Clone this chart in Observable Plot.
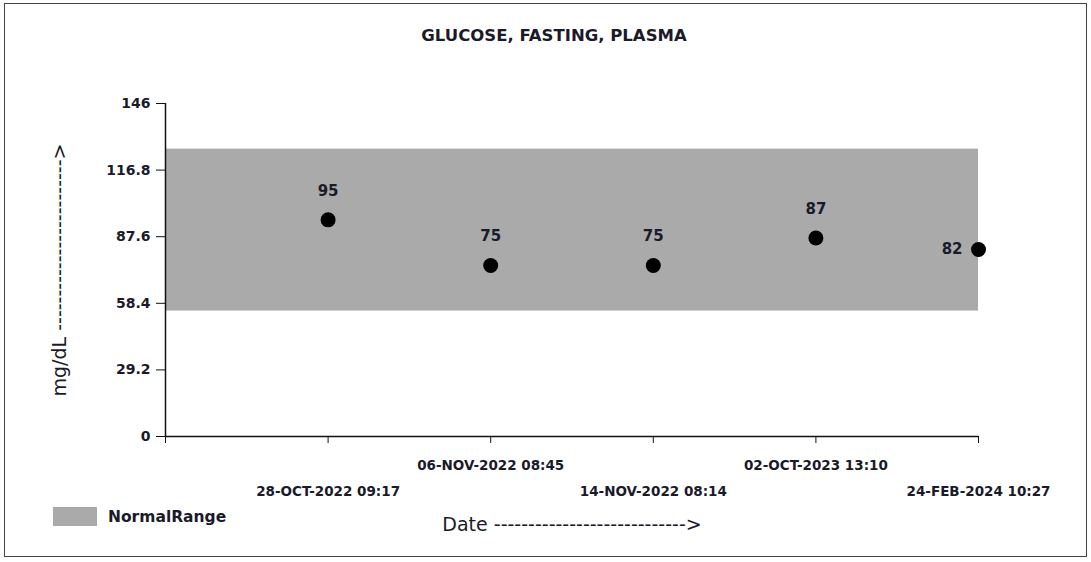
<!DOCTYPE html>
<html><head><meta charset="utf-8">
<script src="https://cdn.jsdelivr.net/npm/d3@7"></script>
<script src="https://cdn.jsdelivr.net/npm/@observablehq/plot@0.6"></script>
<style>
body{margin:0;background:#fff;}
#wrap{position:relative;width:1091px;height:562px;overflow:hidden;background:#fff;}
#chart{position:absolute;left:0;top:0;}
#frame{position:absolute;left:4px;top:3px;width:1081px;height:552px;border:1px solid #444;pointer-events:none;}
#legend{position:absolute;left:53px;top:507px;display:flex;align-items:center;font:bold 15.5px "DejaVu Sans",sans-serif;color:#1a1a2a;}
#legend .sw{width:44px;height:19px;background:#aaaaaa;margin-right:11px;}
</style></head><body>
<div id="wrap"><div id="chart"></div><div id="frame"></div><div id="legend"><div class="sw"></div><span id="legtxt"></span></div></div>
<script>
const title = "GLUCOSE, FASTING, PLASMA";
const dates = ["28-OCT-2022 09:17","06-NOV-2022 08:45","14-NOV-2022 08:14","02-OCT-2023 13:10","24-FEB-2024 10:27"];
const values = [95, 75, 75, 87, 82];
const yTicks = [0, 29.2, 58.4, 87.6, 116.8, 146];
const normalRange = [55, 126];
const xLabel = "Date ---------------------------->";
const yLabel = "mg/dL ------------------------->";
const legendLabel = "NormalRange";

document.getElementById("legtxt").textContent = legendLabel;

const data = dates.map((d, i) => ({i: i + 1, date: d, value: values[i]}));
const n = dates.length;
const xTicks = d3.range(0, n + 1);
const font = "'DejaVu Sans', sans-serif";

const chart = Plot.plot({
  width: 1091,
  height: 562,
  marginLeft: 165,
  marginRight: 113,
  marginTop: 103,
  marginBottom: 126,
  style: {fontFamily: font, fontSize: "13px", color: "#1a1a2a", background: "transparent"},
  x: {domain: [0, n], axis: null},
  y: {domain: [0, yTicks[yTicks.length - 1]], axis: null},
  marks: [
    Plot.rect([normalRange], {x1: 0, x2: n, y1: d => d[0], y2: d => d[1], fill: "#aaaaaa"}),
    Plot.ruleX([0], {y1: 0, y2: yTicks[yTicks.length - 1], stroke: "#111", strokeWidth: 1.5}),
    Plot.ruleY([0], {x1: 0, x2: n, stroke: "#111", strokeWidth: 1.5}),
    Plot.axisY({ticks: yTicks, tickSize: 9, tickPadding: 6, tickFormat: d => String(d), label: null, fontWeight: "bold", fontSize: 14, stroke: "#111"}),
    Plot.axisX({ticks: xTicks, tickSize: 7, tickFormat: () => "", label: null, stroke: "#111"}),
    Plot.dot(data, {x: "i", y: "value", r: 7.5, fill: "#000"}),
    Plot.text(data.slice(0, n - 1), {x: "i", y: "value", text: d => String(d.value), dy: -29, fontWeight: "bold", fontSize: 15}),
    Plot.text(data.slice(n - 1), {x: "i", y: "value", text: d => String(d.value), dx: -16, textAnchor: "end", fontWeight: "bold", fontSize: 15}),
    Plot.text(data.filter(d => d.i % 2 === 0), {x: "i", y: 0, text: "date", dy: 29, fontWeight: "bold", fontSize: 13.5}),
    Plot.text(data.filter(d => d.i % 2 === 1), {x: "i", y: 0, text: "date", dy: 55, fontWeight: "bold", fontSize: 13.5}),
    Plot.text([title], {frameAnchor: "top", text: d => d, dx: -18, dy: -74, fontWeight: "bold", fontSize: 16.5}),
    Plot.text([xLabel], {frameAnchor: "bottom", text: d => d, dy: 94, fontSize: 19, textAnchor: "middle"}),
    Plot.text([yLabel], {frameAnchor: "left", text: d => d, dx: -106, rotate: -90, fontSize: 19, textAnchor: "middle"})
  ]
});
document.getElementById("chart").appendChild(chart);
</script>
</body></html>
